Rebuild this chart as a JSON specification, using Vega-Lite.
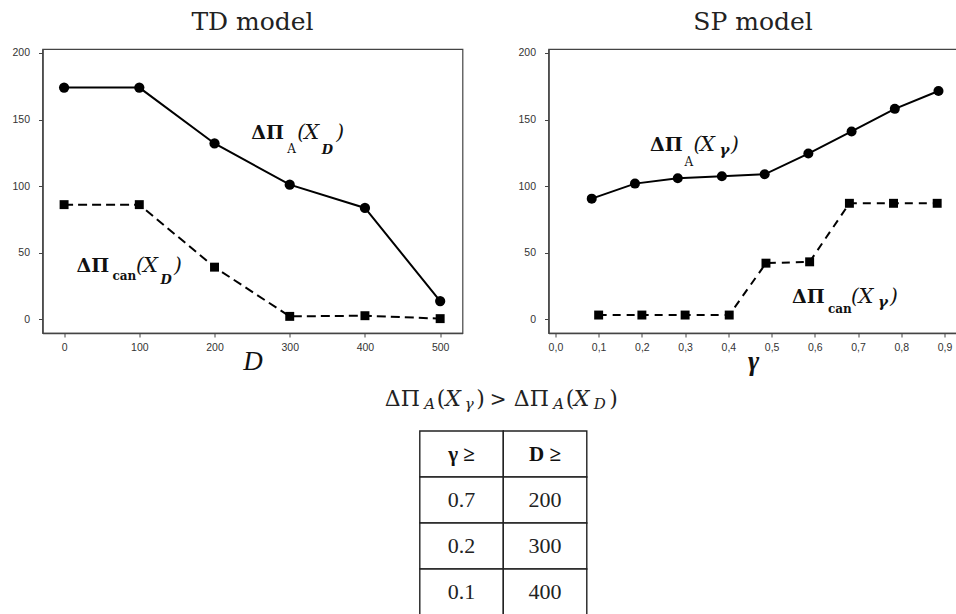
{
  "$schema": "https://vega.github.io/schema/vega-lite/v6.json",
  "background": "white",
  "padding": {"left": 10.5, "top": 9, "right": 0, "bottom": 0},
  "config": {
    "view": {"stroke": "#444", "strokeWidth": 1.2},
    "axis": {"grid": false, "domainColor": "#444", "domainWidth": 1.5, "tickColor": "#444", "tickSize": 4, "labelFont": "Liberation Sans", "labelFontSize": 10.5, "labelColor": "#333", "titleFont": "Liberation Serif", "titleFontSize": 27, "titleFontStyle": "italic", "titleFontWeight": "normal", "titleColor": "#111", "titlePadding": -4},
    "title": {"font": "DejaVu Serif", "fontSize": 25, "fontWeight": "normal", "color": "#222", "baseline": "alphabetic", "offset": 13}
  },
  "datasets": {
    "td": [
      {"D": 0, "A": 174, "can": 86},
      {"D": 100, "A": 174, "can": 86},
      {"D": 200, "A": 132, "can": 39},
      {"D": 300, "A": 101, "can": 2},
      {"D": 400, "A": 83.5, "can": 2.5},
      {"D": 500, "A": 13.5, "can": 0.3}
    ],
    "spA": [
      {"g": 0.084, "v": 90.5}, {"g": 0.184, "v": 101.8}, {"g": 0.283, "v": 105.8},
      {"g": 0.385, "v": 107.3}, {"g": 0.484, "v": 108.8}, {"g": 0.585, "v": 124.4},
      {"g": 0.685, "v": 141}, {"g": 0.785, "v": 158}, {"g": 0.886, "v": 171.4}
    ],
    "spCan": [
      {"g": 0.1, "v": 3}, {"g": 0.2, "v": 3}, {"g": 0.3, "v": 3},
      {"g": 0.402, "v": 3}, {"g": 0.487, "v": 42}, {"g": 0.588, "v": 43},
      {"g": 0.68, "v": 87}, {"g": 0.782, "v": 87}, {"g": 0.883, "v": 87}
    ],
    "tbl": [
      {"row": "h", "col": "γ ≥", "text": "γ ≥"},
      {"row": "h", "col": "D ≥", "text": "D ≥"},
      {"row": "r1", "col": "γ ≥", "text": "0.7"},
      {"row": "r1", "col": "D ≥", "text": "200"},
      {"row": "r2", "col": "γ ≥", "text": "0.2"},
      {"row": "r2", "col": "D ≥", "text": "300"},
      {"row": "r3", "col": "γ ≥", "text": "0.1"},
      {"row": "r3", "col": "D ≥", "text": "400"},
      {"row": "f", "col": "D ≥", "text": ""}
    ],
    "one": [{}]
  },
  "spacing": 9,
  "vconcat": [
    {
      "spacing": 53,
      "hconcat": [
        {
          "title": "TD model",
          "width": 420,
          "height": 284,
          "data": {"name": "td"},
          "layer": [
            {
              "mark": {"type": "line", "color": "black", "strokeWidth": 2},
              "encoding": {
                "x": {"field": "D", "type": "quantitative", "scale": {"domain": [-28.7, 529.7], "nice": false, "zero": false}, "axis": {"values": [0, 100, 200, 300, 400, 500], "title": "D", "labelPadding": 5}},
                "y": {"field": "A", "type": "quantitative", "scale": {"domain": [-10.5, 203], "nice": false, "zero": false}, "axis": {"values": [0, 50, 100, 150, 200], "title": null, "labelPadding": 9}}
              }
            },
            {
              "mark": {"type": "line", "color": "black", "strokeWidth": 2, "strokeDash": [9, 5]},
              "encoding": {"x": {"field": "D", "type": "quantitative"}, "y": {"field": "can", "type": "quantitative"}}
            },
            {
              "mark": {"type": "point", "shape": "circle", "filled": true, "size": 105, "color": "black", "opacity": 1},
              "encoding": {"x": {"field": "D", "type": "quantitative"}, "y": {"field": "A", "type": "quantitative"}}
            },
            {
              "mark": {"type": "point", "shape": "square", "filled": true, "size": 80, "color": "black", "opacity": 1},
              "encoding": {"x": {"field": "D", "type": "quantitative"}, "y": {"field": "can", "type": "quantitative"}}
            },
            {"data": {"name": "one"}, "mark": {"type": "text", "text": "ΔΠ", "align": "left", "baseline": "alphabetic", "font": "DejaVu Serif", "fontSize": 19, "fontWeight": "bold", "color": "#111"}, "encoding": {"x": {"datum": 249, "type": "quantitative"}, "y": {"datum": 135.1, "type": "quantitative"}}},
            {"data": {"name": "one"}, "mark": {"type": "text", "text": "A", "align": "left", "baseline": "alphabetic", "dx": 36, "dy": 14, "font": "DejaVu Serif", "fontSize": 12, "color": "#111"}, "encoding": {"x": {"datum": 249, "type": "quantitative"}, "y": {"datum": 135.1, "type": "quantitative"}}},
            {"data": {"name": "one"}, "mark": {"type": "text", "text": "(", "align": "left", "baseline": "alphabetic", "dx": 46, "font": "DejaVu Serif", "fontSize": 20, "fontStyle": "italic", "color": "#111"}, "encoding": {"x": {"datum": 249, "type": "quantitative"}, "y": {"datum": 135.1, "type": "quantitative"}}},
            {"data": {"name": "one"}, "mark": {"type": "text", "text": "X", "align": "left", "baseline": "alphabetic", "dx": 53, "font": "DejaVu Serif", "fontSize": 21, "fontStyle": "italic", "color": "#111"}, "encoding": {"x": {"datum": 249, "type": "quantitative"}, "y": {"datum": 135.1, "type": "quantitative"}}},
            {"data": {"name": "one"}, "mark": {"type": "text", "text": "D", "align": "left", "baseline": "alphabetic", "dx": 70.5, "dy": 15, "font": "DejaVu Serif", "fontSize": 13, "fontStyle": "italic", "fontWeight": "bold", "color": "#111"}, "encoding": {"x": {"datum": 249, "type": "quantitative"}, "y": {"datum": 135.1, "type": "quantitative"}}},
            {"data": {"name": "one"}, "mark": {"type": "text", "text": ")", "align": "left", "baseline": "alphabetic", "dx": 85, "font": "DejaVu Serif", "fontSize": 20, "fontStyle": "italic", "color": "#111"}, "encoding": {"x": {"datum": 249, "type": "quantitative"}, "y": {"datum": 135.1, "type": "quantitative"}}},
            {"data": {"name": "one"}, "mark": {"type": "text", "text": "ΔΠ", "align": "left", "baseline": "alphabetic", "font": "DejaVu Serif", "fontSize": 19, "fontWeight": "bold", "color": "#111"}, "encoding": {"x": {"datum": 16.5, "type": "quantitative"}, "y": {"datum": 35.3, "type": "quantitative"}}},
            {"data": {"name": "one"}, "mark": {"type": "text", "text": "can", "align": "left", "baseline": "alphabetic", "dx": 36, "dy": 8.3, "font": "DejaVu Serif", "fontSize": 12, "fontWeight": "bold", "color": "#111"}, "encoding": {"x": {"datum": 16.5, "type": "quantitative"}, "y": {"datum": 35.3, "type": "quantitative"}}},
            {"data": {"name": "one"}, "mark": {"type": "text", "text": "(", "align": "left", "baseline": "alphabetic", "dx": 59.5, "font": "DejaVu Serif", "fontSize": 20, "fontStyle": "italic", "color": "#111"}, "encoding": {"x": {"datum": 16.5, "type": "quantitative"}, "y": {"datum": 35.3, "type": "quantitative"}}},
            {"data": {"name": "one"}, "mark": {"type": "text", "text": "X", "align": "left", "baseline": "alphabetic", "dx": 66.5, "font": "DejaVu Serif", "fontSize": 21, "fontStyle": "italic", "color": "#111"}, "encoding": {"x": {"datum": 16.5, "type": "quantitative"}, "y": {"datum": 35.3, "type": "quantitative"}}},
            {"data": {"name": "one"}, "mark": {"type": "text", "text": "D", "align": "left", "baseline": "alphabetic", "dx": 84, "dy": 12.3, "font": "DejaVu Serif", "fontSize": 13, "fontStyle": "italic", "fontWeight": "bold", "color": "#111"}, "encoding": {"x": {"datum": 16.5, "type": "quantitative"}, "y": {"datum": 35.3, "type": "quantitative"}}},
            {"data": {"name": "one"}, "mark": {"type": "text", "text": ")", "align": "left", "baseline": "alphabetic", "dx": 97.5, "font": "DejaVu Serif", "fontSize": 20, "fontStyle": "italic", "color": "#111"}, "encoding": {"x": {"datum": 16.5, "type": "quantitative"}, "y": {"datum": 35.3, "type": "quantitative"}}}
          ]
        },
        {
          "title": "SP model",
          "width": 409,
          "height": 284,
          "layer": [
            {
              "data": {"name": "spA"},
              "mark": {"type": "line", "color": "black", "strokeWidth": 2},
              "encoding": {
                "x": {"field": "g", "type": "quantitative", "scale": {"domain": [-0.016, 0.93], "nice": false, "zero": false}, "axis": {"values": [0, 0.1, 0.2, 0.3, 0.4, 0.5, 0.6, 0.7, 0.8, 0.9], "labelExpr": "replace(format(datum.value, '.1f'), '.', ',')", "title": "γ", "titleFontWeight": "bold", "labelPadding": 5}},
                "y": {"field": "v", "type": "quantitative", "scale": {"domain": [-10.5, 203], "nice": false, "zero": false}, "axis": {"values": [0, 50, 100, 150, 200], "title": null, "labelPadding": 9}}
              }
            },
            {
              "data": {"name": "spCan"},
              "mark": {"type": "line", "color": "black", "strokeWidth": 2, "strokeDash": [8, 6]},
              "encoding": {"x": {"field": "g", "type": "quantitative"}, "y": {"field": "v", "type": "quantitative"}}
            },
            {
              "data": {"name": "spA"},
              "mark": {"type": "point", "shape": "circle", "filled": true, "size": 100, "color": "black", "opacity": 1},
              "encoding": {"x": {"field": "g", "type": "quantitative"}, "y": {"field": "v", "type": "quantitative"}}
            },
            {
              "data": {"name": "spCan"},
              "mark": {"type": "point", "shape": "square", "filled": true, "size": 80, "color": "black", "opacity": 1},
              "encoding": {"x": {"field": "g", "type": "quantitative"}, "y": {"field": "v", "type": "quantitative"}}
            },
            {"data": {"name": "one"}, "mark": {"type": "text", "text": "ΔΠ", "align": "left", "baseline": "alphabetic", "font": "DejaVu Serif", "fontSize": 19, "fontWeight": "bold", "color": "#111"}, "encoding": {"x": {"datum": 0.219, "type": "quantitative"}, "y": {"datum": 126.1, "type": "quantitative"}}},
            {"data": {"name": "one"}, "mark": {"type": "text", "text": "A", "align": "left", "baseline": "alphabetic", "dx": 34.5, "dy": 14.5, "font": "DejaVu Serif", "fontSize": 12, "color": "#111"}, "encoding": {"x": {"datum": 0.219, "type": "quantitative"}, "y": {"datum": 126.1, "type": "quantitative"}}},
            {"data": {"name": "one"}, "mark": {"type": "text", "text": "(", "align": "left", "baseline": "alphabetic", "dx": 43.3, "font": "DejaVu Serif", "fontSize": 20, "fontStyle": "italic", "color": "#111"}, "encoding": {"x": {"datum": 0.219, "type": "quantitative"}, "y": {"datum": 126.1, "type": "quantitative"}}},
            {"data": {"name": "one"}, "mark": {"type": "text", "text": "X", "align": "left", "baseline": "alphabetic", "dx": 50, "font": "DejaVu Serif", "fontSize": 21, "fontStyle": "italic", "color": "#111"}, "encoding": {"x": {"datum": 0.219, "type": "quantitative"}, "y": {"datum": 126.1, "type": "quantitative"}}},
            {"data": {"name": "one"}, "mark": {"type": "text", "text": "γ", "align": "left", "baseline": "alphabetic", "dx": 69.5, "dy": 4, "font": "DejaVu Serif", "fontSize": 15, "fontStyle": "italic", "fontWeight": "bold", "color": "#111"}, "encoding": {"x": {"datum": 0.219, "type": "quantitative"}, "y": {"datum": 126.1, "type": "quantitative"}}},
            {"data": {"name": "one"}, "mark": {"type": "text", "text": ")", "align": "left", "baseline": "alphabetic", "dx": 81, "font": "DejaVu Serif", "fontSize": 20, "fontStyle": "italic", "color": "#111"}, "encoding": {"x": {"datum": 0.219, "type": "quantitative"}, "y": {"datum": 126.1, "type": "quantitative"}}},
            {"data": {"name": "one"}, "mark": {"type": "text", "text": "ΔΠ", "align": "left", "baseline": "alphabetic", "font": "DejaVu Serif", "fontSize": 19, "fontWeight": "bold", "color": "#111"}, "encoding": {"x": {"datum": 0.547, "type": "quantitative"}, "y": {"datum": 12, "type": "quantitative"}}},
            {"data": {"name": "one"}, "mark": {"type": "text", "text": "can", "align": "left", "baseline": "alphabetic", "dx": 36, "dy": 10, "font": "DejaVu Serif", "fontSize": 12, "fontWeight": "bold", "color": "#111"}, "encoding": {"x": {"datum": 0.547, "type": "quantitative"}, "y": {"datum": 12, "type": "quantitative"}}},
            {"data": {"name": "one"}, "mark": {"type": "text", "text": "(", "align": "left", "baseline": "alphabetic", "dx": 59, "font": "DejaVu Serif", "fontSize": 20, "fontStyle": "italic", "color": "#111"}, "encoding": {"x": {"datum": 0.547, "type": "quantitative"}, "y": {"datum": 12, "type": "quantitative"}}},
            {"data": {"name": "one"}, "mark": {"type": "text", "text": "X", "align": "left", "baseline": "alphabetic", "dx": 66.5, "font": "DejaVu Serif", "fontSize": 21, "fontStyle": "italic", "color": "#111"}, "encoding": {"x": {"datum": 0.547, "type": "quantitative"}, "y": {"datum": 12, "type": "quantitative"}}},
            {"data": {"name": "one"}, "mark": {"type": "text", "text": "γ", "align": "left", "baseline": "alphabetic", "dx": 86, "dy": 4, "font": "DejaVu Serif", "fontSize": 15, "fontStyle": "italic", "fontWeight": "bold", "color": "#111"}, "encoding": {"x": {"datum": 0.547, "type": "quantitative"}, "y": {"datum": 12, "type": "quantitative"}}},
            {"data": {"name": "one"}, "mark": {"type": "text", "text": ")", "align": "left", "baseline": "alphabetic", "dx": 98, "font": "DejaVu Serif", "fontSize": 20, "fontStyle": "italic", "color": "#111"}, "encoding": {"x": {"datum": 0.547, "type": "quantitative"}, "y": {"datum": 12, "type": "quantitative"}}}
          ]
        }
      ]
    },
    {
      "width": 545,
      "height": 230,
      "view": {"stroke": null},
      "data": {"name": "tbl"},
      "encoding": {
        "x": {"field": "col", "type": "nominal", "scale": {"type": "band", "domain": ["γ ≥", "D ≥"], "range": [377.3, 544.3], "paddingInner": 0, "paddingOuter": 0}, "axis": null},
        "y": {"field": "row", "type": "nominal", "scale": {"type": "band", "domain": ["f", "h", "r1", "r2", "r3"], "paddingInner": 0, "paddingOuter": 0}, "axis": null}
      },
      "layer": [
        {"transform": [{"filter": "datum.row !== 'f'"}], "mark": {"type": "rect", "fill": "white", "stroke": "#222", "strokeWidth": 1.4}},
        {"transform": [{"filter": "datum.row === 'h'"}], "mark": {"type": "text", "baseline": "middle", "dy": 1, "font": "Liberation Serif", "fontSize": 21, "fontWeight": "bold", "color": "#111"}, "encoding": {"text": {"field": "text"}}},
        {"transform": [{"filter": "datum.row !== 'h' && datum.row !== 'f'"}], "mark": {"type": "text", "baseline": "middle", "font": "Liberation Serif", "fontSize": 22, "color": "#222"}, "encoding": {"text": {"field": "text"}}},
        {"transform": [{"filter": "datum.row === 'f'"}], "mark": {"type": "text", "text": "ΔΠ", "align": "left", "baseline": "alphabetic", "dx": -118.5, "dy": -2.2, "font": "DejaVu Serif", "fontSize": 22, "color": "#222"}, "encoding": {"x": {"field": "col", "type": "nominal", "bandPosition": 0}}},
        {"transform": [{"filter": "datum.row === 'f'"}], "mark": {"type": "text", "text": "A", "align": "left", "baseline": "alphabetic", "dx": -79, "dy": 1.3, "font": "DejaVu Serif", "fontSize": 15, "fontStyle": "italic", "color": "#222"}, "encoding": {"x": {"field": "col", "type": "nominal", "bandPosition": 0}}},
        {"transform": [{"filter": "datum.row === 'f'"}], "mark": {"type": "text", "text": "(", "align": "left", "baseline": "alphabetic", "dx": -66.5, "dy": -2.2, "font": "DejaVu Serif", "fontSize": 22, "color": "#222"}, "encoding": {"x": {"field": "col", "type": "nominal", "bandPosition": 0}}},
        {"transform": [{"filter": "datum.row === 'f'"}], "mark": {"type": "text", "text": "X", "align": "left", "baseline": "alphabetic", "dx": -58, "dy": -2.2, "font": "DejaVu Serif", "fontSize": 22, "fontStyle": "italic", "color": "#222"}, "encoding": {"x": {"field": "col", "type": "nominal", "bandPosition": 0}}},
        {"transform": [{"filter": "datum.row === 'f'"}], "mark": {"type": "text", "text": "γ", "align": "left", "baseline": "alphabetic", "dx": -38.5, "dy": 0.5, "font": "DejaVu Serif", "fontSize": 15, "fontStyle": "italic", "color": "#222"}, "encoding": {"x": {"field": "col", "type": "nominal", "bandPosition": 0}}},
        {"transform": [{"filter": "datum.row === 'f'"}], "mark": {"type": "text", "text": ")", "align": "left", "baseline": "alphabetic", "dx": -27, "dy": -2.2, "font": "DejaVu Serif", "fontSize": 22, "color": "#222"}, "encoding": {"x": {"field": "col", "type": "nominal", "bandPosition": 0}}},
        {"transform": [{"filter": "datum.row === 'f'"}], "mark": {"type": "text", "text": ">", "align": "left", "baseline": "alphabetic", "dx": -13.5, "dy": -2.2, "font": "DejaVu Serif", "fontSize": 20, "color": "#222"}, "encoding": {"x": {"field": "col", "type": "nominal", "bandPosition": 0}}},
        {"transform": [{"filter": "datum.row === 'f'"}], "mark": {"type": "text", "text": "ΔΠ", "align": "left", "baseline": "alphabetic", "dx": 10.5, "dy": -2.2, "font": "DejaVu Serif", "fontSize": 22, "color": "#222"}, "encoding": {"x": {"field": "col", "type": "nominal", "bandPosition": 0}}},
        {"transform": [{"filter": "datum.row === 'f'"}], "mark": {"type": "text", "text": "A", "align": "left", "baseline": "alphabetic", "dx": 50, "dy": 1.3, "font": "DejaVu Serif", "fontSize": 15, "fontStyle": "italic", "color": "#222"}, "encoding": {"x": {"field": "col", "type": "nominal", "bandPosition": 0}}},
        {"transform": [{"filter": "datum.row === 'f'"}], "mark": {"type": "text", "text": "(", "align": "left", "baseline": "alphabetic", "dx": 62.5, "dy": -2.2, "font": "DejaVu Serif", "fontSize": 22, "color": "#222"}, "encoding": {"x": {"field": "col", "type": "nominal", "bandPosition": 0}}},
        {"transform": [{"filter": "datum.row === 'f'"}], "mark": {"type": "text", "text": "X", "align": "left", "baseline": "alphabetic", "dx": 70.5, "dy": -2.2, "font": "DejaVu Serif", "fontSize": 22, "fontStyle": "italic", "color": "#222"}, "encoding": {"x": {"field": "col", "type": "nominal", "bandPosition": 0}}},
        {"transform": [{"filter": "datum.row === 'f'"}], "mark": {"type": "text", "text": "D", "align": "left", "baseline": "alphabetic", "dx": 90.5, "dy": 1.3, "font": "DejaVu Serif", "fontSize": 15, "fontStyle": "italic", "color": "#222"}, "encoding": {"x": {"field": "col", "type": "nominal", "bandPosition": 0}}},
        {"transform": [{"filter": "datum.row === 'f'"}], "mark": {"type": "text", "text": ")", "align": "left", "baseline": "alphabetic", "dx": 106, "dy": -2.2, "font": "DejaVu Serif", "fontSize": 22, "color": "#222"}, "encoding": {"x": {"field": "col", "type": "nominal", "bandPosition": 0}}}
      ]
    }
  ]
}
